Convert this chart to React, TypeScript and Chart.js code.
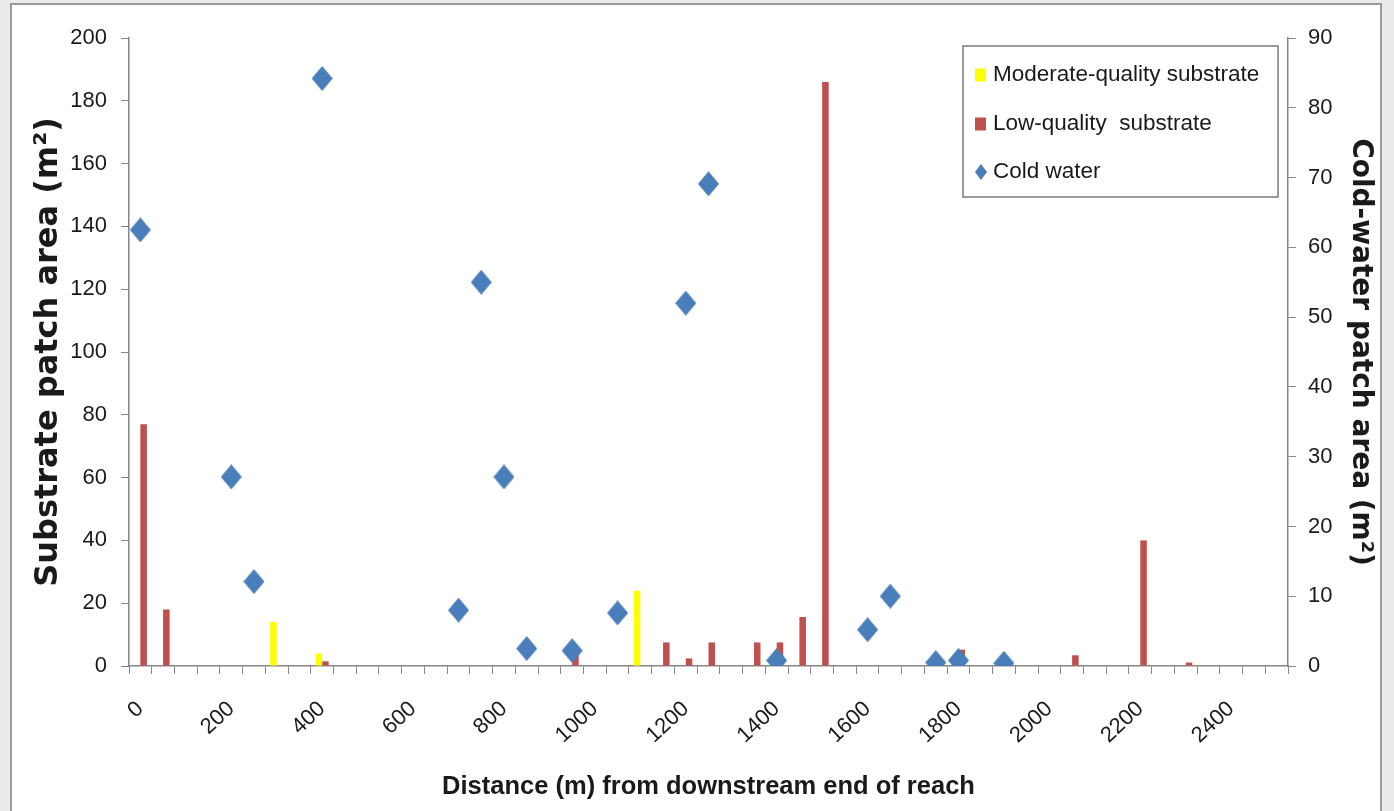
import React, { useEffect, useRef } from 'react';
import { Chart, registerables } from 'chart.js';

Chart.register(...registerables);

// Category axis: distance (m) from downstream end of reach, every 50 m
const distances = [
  0, 50, 100, 150, 200, 250, 300, 350, 400, 450, 500, 550, 600, 650, 700, 750, 800, 850,
  900, 950, 1000, 1050, 1100, 1150, 1200, 1250, 1300, 1350, 1400, 1450, 1500, 1550, 1600,
  1650, 1700, 1750, 1800, 1850, 1900, 1950, 2000, 2050, 2100, 2150, 2200, 2250, 2300, 2350,
  2400, 2450, 2500,
];
const xTickLabels = ['0', '200', '400', '600', '800', '1000', '1200', '1400', '1600', '1800', '2000', '2200', '2400'];

// Moderate-quality substrate (left axis, m²)
const moderateDistance = [300, 400, 1100];
const moderateArea = [14, 4, 24];

// Low-quality substrate (left axis, m²)
const lowDistance = [0, 50, 400, 950, 1150, 1200, 1250, 1350, 1400, 1450, 1500, 1800, 2050, 2200, 2300];
const lowArea = [77, 18, 1.5, 3.5, 7.5, 2.4, 7.5, 7.5, 7.5, 15.6, 186, 5.2, 3.4, 40, 1.1];

// Cold water (right axis, m²)
const coldDistance = [0, 200, 250, 400, 700, 750, 800, 850, 950, 1050, 1200, 1250, 1400, 1600, 1650, 1750, 1800, 1900];
const coldArea = [62.5, 27.1, 12.1, 84.2, 8.0, 55.0, 27.1, 2.5, 2.2, 7.6, 52.0, 69.1, 0.8, 5.2, 10.0, 0.5, 0.8, 0.4];

const seriesLabels = ['Moderate-quality substrate', 'Low-quality  substrate', 'Cold water'];
const seriesColors = ['#ffff00', '#c0504d', '#4a7ebb'];

const W = 1394;
const H = 811;
const TEXT = '#1a1a1a';
const AXIS = '#868686';
const FONT = 'Liberation Sans';

function align(dist: number[], vals: number[]) {
  return distances.map((d) => {
    const i = dist.indexOf(d);
    return i >= 0 ? vals[i] : null;
  });
}

function makeDiamond(w: number, h: number, color: string) {
  const c = document.createElement('canvas');
  c.width = w;
  c.height = h;
  const g = c.getContext('2d')!;
  g.fillStyle = color;
  g.beginPath();
  g.moveTo(w / 2, 0);
  g.lineTo(w, h / 2);
  g.lineTo(w / 2, h);
  g.lineTo(0, h / 2);
  g.closePath();
  g.fill();
  return c;
}

const boxLegend = {
  id: 'boxLegend',
  afterDraw(chart: any) {
    const { ctx, chartArea } = chart;
    const bw = 315;
    const bh = 151;
    const bx = chartArea.right - 10 - bw;
    const by = chartArea.top + 8;
    ctx.save();
    ctx.fillStyle = '#ffffff';
    ctx.fillRect(bx, by, bw, bh);
    ctx.strokeStyle = '#7a7a7a';
    ctx.lineWidth = 1.5;
    ctx.strokeRect(bx, by, bw, bh);
    const rows = [29, 78, 126];
    ctx.font = `22.5px "${FONT}"`;
    ctx.textBaseline = 'middle';
    ctx.textAlign = 'left';
    chart.data.datasets.forEach((ds: any, i: number) => {
      const cy = by + rows[i];
      const mx = bx + 12;
      ctx.fillStyle = seriesColors[i];
      if (i < 2) {
        ctx.fillRect(mx, cy - 6.5, 11, 13);
      } else {
        ctx.beginPath();
        ctx.moveTo(mx + 6, cy - 8);
        ctx.lineTo(mx + 12, cy);
        ctx.lineTo(mx + 6, cy + 8);
        ctx.lineTo(mx, cy);
        ctx.closePath();
        ctx.fill();
      }
      ctx.fillStyle = TEXT;
      ctx.fillText(ds.label, bx + 30, cy);
    });
    ctx.restore();
  },
};

export default function App() {
  const ref = useRef<HTMLCanvasElement>(null);

  useEffect(() => {
    if (!ref.current) return;
    const diamond = makeDiamond(21, 25, seriesColors[2]);
    const tickFont = { family: FONT, size: 22 };
    const chart = new Chart(ref.current, {
      type: 'bar',
      data: {
        labels: distances.map(String),
        datasets: [
          {
            type: 'bar',
            label: seriesLabels[0],
            data: align(moderateDistance, moderateArea),
            backgroundColor: seriesColors[0],
            yAxisID: 'y',
            categoryPercentage: 0.575,
            barPercentage: 1,
            order: 1,
          },
          {
            type: 'bar',
            label: seriesLabels[1],
            data: align(lowDistance, lowArea),
            backgroundColor: seriesColors[1],
            yAxisID: 'y',
            categoryPercentage: 0.575,
            barPercentage: 1,
            order: 1,
          },
          {
            type: 'line',
            label: seriesLabels[2],
            data: align(coldDistance, coldArea),
            yAxisID: 'y2',
            showLine: false,
            pointStyle: diamond,
            pointRadius: 12,
            backgroundColor: seriesColors[2],
            borderColor: seriesColors[2],
            order: 0,
          },
        ],
      } as any,
      plugins: [boxLegend],
      options: {
        responsive: false,
        animation: false,
        devicePixelRatio: 1,
        layout: { padding: { top: 38, left: 0, right: 0, bottom: 0 } },
        plugins: {
          legend: { display: false },
          tooltip: { enabled: false },
        },
        scales: {
          x: {
            type: 'category',
            offset: true,
            grid: { offset: true, drawOnChartArea: false, drawTicks: true, tickLength: 8, color: AXIS, lineWidth: 1 },
            border: { color: AXIS, width: 1.5 },
            ticks: {
              autoSkip: false,
              minRotation: 43,
              maxRotation: 43,
              padding: 22,
              color: TEXT,
              font: tickFont,
              callback: (_v: any, i: number) => {
                const lab = String(distances[i]);
                return xTickLabels.includes(lab) ? lab : '';
              },
            },
            title: {
              display: true,
              text: 'Distance (m) from downstream end of reach',
              color: TEXT,
              font: { family: FONT, size: 25.5, weight: 'bold' },
              padding: { top: 0, bottom: 9 },
            },
            afterFit: (s: any) => {
              s.height = 145;
            },
          },
          y: {
            position: 'left',
            min: 0,
            max: 200,
            ticks: { stepSize: 20, padding: 14, color: TEXT, font: tickFont },
            grid: { drawOnChartArea: false, tickLength: 8, color: AXIS },
            border: { color: AXIS, width: 1.5 },
            title: {
              display: true,
              text: 'Substrate patch area (m²)',
              color: TEXT,
              font: { family: 'DejaVu Sans', size: 32, weight: 'bold' },
              padding: { top: 29, bottom: 0 },
            },
            afterFit: (s: any) => {
              s.width = 129;
            },
          },
          y2: {
            position: 'right',
            min: 0,
            max: 90,
            ticks: { stepSize: 10, padding: 12, color: TEXT, font: tickFont },
            grid: { drawOnChartArea: false, tickLength: 8, color: AXIS },
            border: { color: AXIS, width: 1.5 },
            title: {
              display: true,
              text: 'Cold-water patch area (m²)',
              color: TEXT,
              font: { family: 'DejaVu Sans', size: 28, weight: 'bold' },
              padding: { top: 17, bottom: 0 },
            },
            afterFit: (s: any) => {
              s.width = W - 1288;
            },
          },
        },
      } as any,
    });
    return () => chart.destroy();
  }, []);

  return (
    <div
      style={{
        position: 'absolute',
        left: 0,
        top: 0,
        width: W,
        height: H,
        overflow: 'hidden',
        background: '#e9ebeb',
      }}
    >
      <div
        style={{
          position: 'absolute',
          left: 10,
          top: 3,
          width: 1372,
          height: 840,
          boxSizing: 'border-box',
          border: '2px solid #9a9a9a',
          background: '#ffffff',
        }}
      />
      <canvas
        ref={ref}
        width={W}
        height={H}
        style={{ position: 'absolute', left: 0, top: 0, width: W, height: H }}
      />
    </div>
  );
}
